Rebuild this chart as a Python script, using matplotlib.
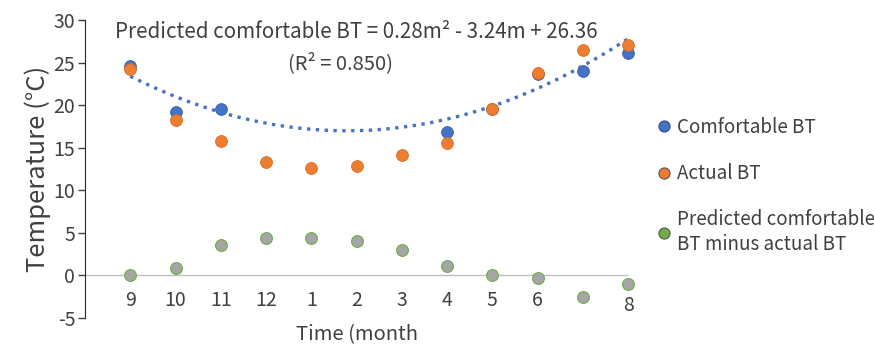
import matplotlib.pyplot as plt
import numpy as np

plt.rcParams['font.family'] = ['Noto Sans CJK JP', 'DejaVu Sans']
plt.rcParams['axes.unicode_minus'] = False

months = ["9", "10", "11", "12", "1", "2", "3", "4", "5", "6", "", "8"]
m = np.arange(1, 13)

comfortable = [24.6, 19.2, 19.5, np.nan, np.nan, np.nan, np.nan, 16.8, 19.6, 23.6, 24.0, 26.1]
actual = [24.3, 18.2, 15.8, 13.3, 12.6, 12.9, 14.2, 15.6, 19.6, 23.8, 26.5, 27.1]
diff = [0.1, 0.9, 3.6, 4.4, 4.4, 4.0, 3.0, 1.1, 0.0, -0.3, -2.5, -1.0]

# quadratic fit shown on the chart
coef = [0.28, -3.24, 26.36]

blue = '#4472c4'
orange = '#ed7d31'
green = '#70ad47'
grey = '#a5a5a5'
txt = '#404040'

fig = plt.figure(figsize=(8.74, 3.47), dpi=100)
ax = fig.add_axes([0.0973, 0.0836, 0.6213, 0.8588])

# zero line
ax.axhline(0, color='#bfbfbf', lw=1, zorder=1)

# trend line
tt = np.linspace(1, 12, 200)
ax.plot(tt, np.polyval(coef, tt), ls=':', lw=2.4, color=blue, zorder=2)

ms = 8.5
ax.plot(m, diff, 'o', ms=ms, mfc=grey, mec=green, mew=0.8, ls='none', clip_on=False, zorder=3)
ax.plot(m, comfortable, 'o', ms=ms, mfc=blue, mec='#3a62a8', mew=0.6, ls='none', clip_on=False, zorder=3)
ax.plot(m, actual, 'o', ms=ms, mfc=orange, mec='#d86a20', mew=0.6, ls='none', clip_on=False, zorder=4)

ax.set_xlim(0, 12)
ax.set_ylim(-5, 30)
ax.set_yticks(range(-5, 31, 5))
ax.tick_params(axis='y', labelsize=14, length=5, width=1, direction='out', pad=2, colors=txt)
ax.set_xticks([])
for s in ['top', 'right', 'bottom']:
    ax.spines[s].set_visible(False)
ax.spines['left'].set_color('#262626')

# month labels sit inside the plot, below zero
for i, lab in zip(m, months):
    y = -3.5 if lab == "8" else -2.9
    ax.text(i, y, lab, ha='center', va='center', fontsize=14, color=txt)

ax.set_ylabel('Temperature (°C)', fontsize=18.5, color=txt, labelpad=2)
ax.text(6.0, -6.9, 'Time (month', ha='center', va='center', fontsize=14.5, color=txt)

ax.text(6.0, 28.6, 'Predicted comfortable BT = 0.28m² - 3.24m + 26.36',
        ha='center', va='center', fontsize=14.8, color=txt)
ax.text(5.65, 24.9, '(R² = 0.850)', ha='center', va='center', fontsize=14.5, color=txt)

# legend
h1, = ax.plot([], [], 'o', ms=8, mfc=blue, mec='#2f4f8a', mew=0.8)
h2, = ax.plot([], [], 'o', ms=8, mfc=orange, mec='#555555', mew=0.8)
h3, = ax.plot([], [], 'o', ms=8, mfc=green, mec='#555555', mew=0.8)
fig.legend([h1, h2, h3],
           ['Comfortable BT', 'Actual BT', 'Predicted comfortable\nBT minus actual BT'],
           loc='upper left', bbox_to_anchor=(0.745, 0.685), frameon=False,
           fontsize=13.5, handlelength=0.6, handletextpad=0.4, labelspacing=1.35,
           labelcolor=txt, borderaxespad=0)

fig.savefig('out.png', dpi=100)
